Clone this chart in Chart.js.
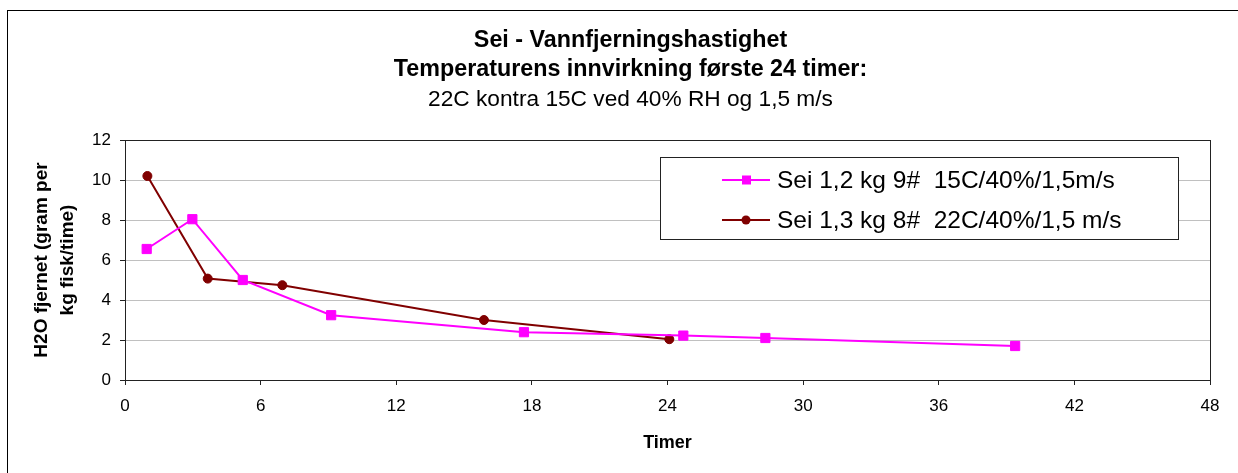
<!DOCTYPE html>
<html>
<head>
<meta charset="utf-8">
<script src="https://cdn.jsdelivr.net/npm/chart.js@4/dist/chart.umd.min.js"></script>
<style>
  html, body { margin: 0; padding: 0; background: #fff; }
  #wrap { width: 1238px; height: 473px; position: relative; }
</style>
</head>
<body>
<div id="wrap"><canvas id="c" width="1238" height="473"></canvas></div>
<script>
// ---- Data ----
const titleLines = ['Sei - Vannfjerningshastighet', 'Temperaturens innvirkning første 24 timer:'];
const subtitleText = '22C kontra 15C ved 40% RH og 1,5 m/s';
const xTitle = 'Timer';
const yTitle = ['H2O fjernet (gram per', 'kg fisk/time)'];
const seriesNames = ['Sei 1,2 kg 9#  15C/40%/1,5m/s', 'Sei 1,3 kg 8#  22C/40%/1,5 m/s'];
const pinkX = [0.96, 2.98, 5.21, 9.12, 17.65, 24.7, 28.33, 39.38];
const pinkY = [6.55, 8.04, 5.0, 3.24, 2.39, 2.22, 2.1, 1.7];
const redX = [0.99, 3.66, 6.96, 15.88, 24.08];
const redY = [10.2, 5.07, 4.74, 3.0, 2.04];
const xMin = 0, xMax = 48, xStep = 6;
const yMin = 0, yMax = 12, yStep = 2;

const FONT = '"Liberation Sans", Arial, sans-serif';
const toPts = (xs, ys) => xs.map((x, i) => ({ x: x, y: ys[i] }));

const framePlugin = {
  id: 'frame',
  beforeDraw(chart) {
    const ctx = chart.ctx;
    ctx.save();
    ctx.fillStyle = '#fff';
    ctx.fillRect(0, 0, chart.width, chart.height);
    ctx.strokeStyle = '#000';
    ctx.lineWidth = 1;
    ctx.strokeRect(7.5, 10.5, 1400, 600);
    ctx.restore();
  },
  afterDatasetsDraw(chart) {
    const ctx = chart.ctx;
    const a = chart.chartArea;
    ctx.save();
    ctx.strokeStyle = '#222';
    ctx.lineWidth = 1;
    ctx.strokeRect(Math.round(a.left) + 0.5, Math.round(a.top) + 0.5,
                   Math.round(a.right - a.left), Math.round(a.bottom - a.top));
    // legend box
    const lx = 660.5, ly = 157.5, lw = 518, lh = 82;
    ctx.fillStyle = '#fff';
    ctx.fillRect(lx, ly, lw, lh);
    ctx.strokeStyle = '#222';
    ctx.strokeRect(lx, ly, lw, lh);
    chart.data.datasets.forEach((ds, i) => {
      const cy = 180 + i * 40;
      ctx.strokeStyle = ds.borderColor;
      ctx.lineWidth = 2;
      ctx.beginPath();
      ctx.moveTo(722, cy);
      ctx.lineTo(770, cy);
      ctx.stroke();
      ctx.fillStyle = ds.backgroundColor;
      if (ds.pointStyle === 'rect') {
        ctx.fillRect(742, cy - 4.5, 9, 9);
      } else {
        ctx.beginPath();
        ctx.arc(746, cy, 4.5, 0, Math.PI * 2);
        ctx.fill();
      }
      ctx.fillStyle = '#000';
      ctx.font = '24.5px ' + FONT;
      ctx.textBaseline = 'middle';
      ctx.textAlign = 'left';
      ctx.fillText(ds.label, 777, cy + 1);
    });
    ctx.restore();
  }
};

new Chart(document.getElementById('c'), {
  type: 'line',
  data: {
    datasets: [
      {
        label: seriesNames[0],
        data: toPts(pinkX, pinkY),
        borderColor: '#FF00FF',
        backgroundColor: '#FF00FF',
        pointBackgroundColor: '#FF00FF',
        pointBorderColor: '#FF00FF',
        pointStyle: 'rect',
        pointRadius: 6.5,
        pointBorderWidth: 1,
        borderWidth: 2,
        tension: 0,
        fill: false
      },
      {
        label: seriesNames[1],
        data: toPts(redX, redY),
        borderColor: '#800000',
        backgroundColor: '#800000',
        pointBackgroundColor: '#800000',
        pointBorderColor: '#800000',
        pointStyle: 'circle',
        pointRadius: 4.5,
        pointBorderWidth: 1,
        borderWidth: 2,
        tension: 0,
        fill: false
      }
    ]
  },
  options: {
    responsive: false,
    animation: false,
    events: [],
    layout: { padding: { left: 51, right: 28, top: 0, bottom: 0 } },
    plugins: {
      legend: { display: false },
      tooltip: { enabled: false },
      title: {
        display: true,
        text: titleLines,
        color: '#000',
        font: { family: FONT, size: 23.3, weight: 'bold', lineHeight: '29.5px' },
        padding: { top: 25.75, bottom: 0 }
      },
      subtitle: {
        display: true,
        text: subtitleText,
        color: '#000',
        font: { family: FONT, size: 22.7, weight: 'normal', lineHeight: '29.5px' },
        padding: { top: 0.5, bottom: 25.25 }
      }
    },
    scales: {
      x: {
        type: 'linear',
        min: xMin, max: xMax,
        ticks: { stepSize: xStep, color: '#000', font: { family: FONT, size: 17 }, padding: 11, maxRotation: 0 },
        grid: { drawOnChartArea: false, drawTicks: true, tickColor: '#222', tickLength: 5, tickWidth: 1 },
        border: { color: '#222', width: 1 },
        title: { display: true, text: xTitle, color: '#000', font: { family: FONT, size: 18, weight: 'bold' }, padding: { top: 0, bottom: 19 } },
        afterFit(s) { s.height = 93; }
      },
      y: {
        type: 'linear',
        min: yMin, max: yMax,
        ticks: { stepSize: yStep, color: '#000', font: { family: FONT, size: 17 }, padding: 9 },
        grid: { color: '#c0c0c0', lineWidth: 1, tickColor: '#222', tickLength: 5 },
        border: { color: '#222', width: 1 },
        title: { display: true, text: yTitle, color: '#000', font: { family: FONT, size: 19, weight: 'bold', lineHeight: '26px' }, padding: { top: -22.3, bottom: 0 } },
        afterFit(s) { s.width = 74; }
      }
    }
  },
  plugins: [framePlugin]
});
</script>
</body>
</html>
